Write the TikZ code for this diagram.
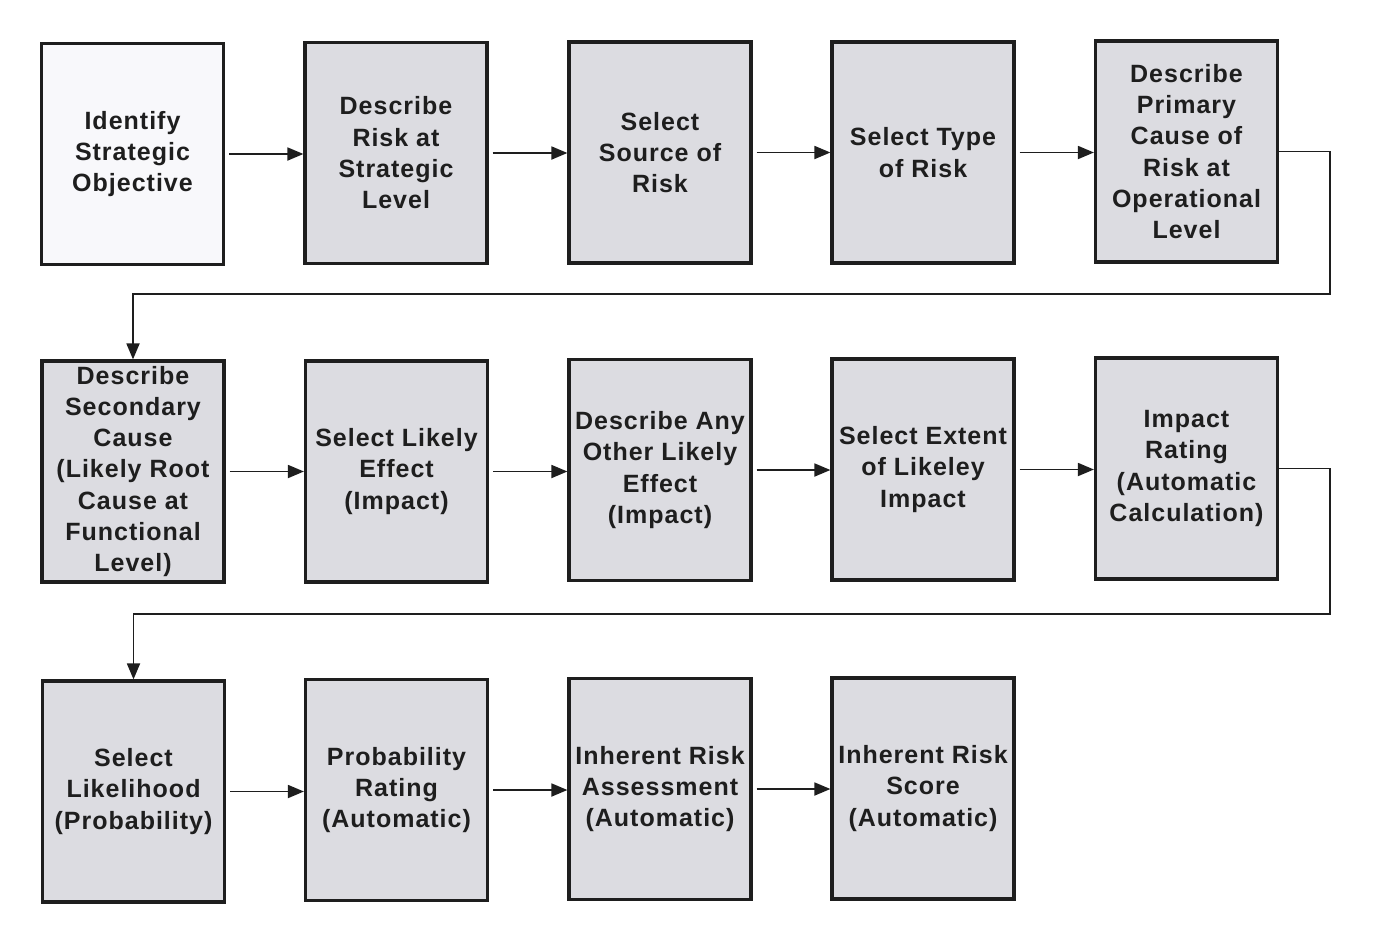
\documentclass[tikz,border=0pt]{standalone}
\usepackage{fontspec}
\newfontfamily\boxfont{Liberation Sans}[LetterSpace=4]
\usetikzlibrary{arrows.meta}
\definecolor{boxgray}{HTML}{DCDCE1}
\definecolor{boxwhite}{HTML}{F8F8FB}
\definecolor{ink}{HTML}{1E1E1E}
\tikzset{
  stepbox/.style={draw=ink, line width=3.2pt, fill=boxgray, minimum width=182pt, minimum height=221pt,
    inner sep=0pt, align=center, text=ink, font=\boxfont\bfseries\fontsize{25}{31.3}\selectfont},
  firstbox/.style={stepbox, fill=boxwhite},
  arr/.style={draw=ink, line width=1.8pt, -{Triangle[length=16pt,width=13pt]}, shorten <=4pt},
  link/.style={draw=ink, line width=1.8pt, -{Triangle[length=16pt,width=13pt]}}
}
\begin{document}
\begin{tikzpicture}[x=1pt,y=-1pt]
\useasboundingbox (0,0) rectangle (1373,927);
\fill[white] (0,0) rectangle (1373,927);
% row 1
\node[firstbox] (b1) at (132.5,154) {Identify\\Strategic\\Objective};
\node[stepbox] (b2) at (396,153) {Describe\\Risk at\\Strategic\\Level};
\node[stepbox] (b3) at (660,152.5) {Select\\Source of\\Risk};
\node[stepbox] (b4) at (923,152.5) {Select Type\\of Risk};
\node[stepbox] (b5) at (1186.5,151.5) {Describe\\Primary\\Cause of\\Risk at\\Operational\\Level};
% row 2
\node[stepbox] (b6) at (133,471.5) {Describe\\Secondary\\Cause\\(Likely Root\\Cause at\\Functional\\Level)};
\node[stepbox] (b7) at (396.5,471.5) {Select Likely\\Effect\\(Impact)};
\node[stepbox] (b8) at (660,470) {Describe Any\\Other Likely\\Effect\\(Impact)};
\node[stepbox] (b9) at (923,469.5) {Select Extent\\of Likeley\\Impact};
\node[stepbox] (b10) at (1186.5,468.5) {Impact\\Rating\\(Automatic\\Calculation)};
% row 3
\node[stepbox] (b11) at (133.5,791.5) {Select\\Likelihood\\(Probability)};
\node[stepbox] (b12) at (396.5,790) {Probability\\Rating\\(Automatic)};
\node[stepbox] (b13) at (660,789) {Inherent Risk\\Assessment\\(Automatic)};
\node[stepbox] (b14) at (923,788.5) {Inherent Risk\\Score\\(Automatic)};
% connectors
\draw[arr] (b1.east) -- (b1.east -| b2.west);
\draw[arr] (b2.east) -- (b2.east -| b3.west);
\draw[arr] (b3.east) -- (b3.east -| b4.west);
\draw[arr] (b4.east) -- (b4.east -| b5.west);
\draw[arr] (b6.east) -- (b6.east -| b7.west);
\draw[arr] (b7.east) -- (b7.east -| b8.west);
\draw[arr] (b8.east) -- (b8.east -| b9.west);
\draw[arr] (b9.east) -- (b9.east -| b10.west);
\draw[arr] (b11.east) -- (b11.east -| b12.west);
\draw[arr] (b12.east) -- (b12.east -| b13.west);
\draw[arr] (b13.east) -- (b13.east -| b14.west);
\coordinate (w1) at (1330,294);
\coordinate (w2) at (1330,614);
\draw[link] (b5.east) -| (w1) -| (b6.north);
\draw[link] (b10.east) -| (w2) -| (b11.north);
\end{tikzpicture}
\end{document}
